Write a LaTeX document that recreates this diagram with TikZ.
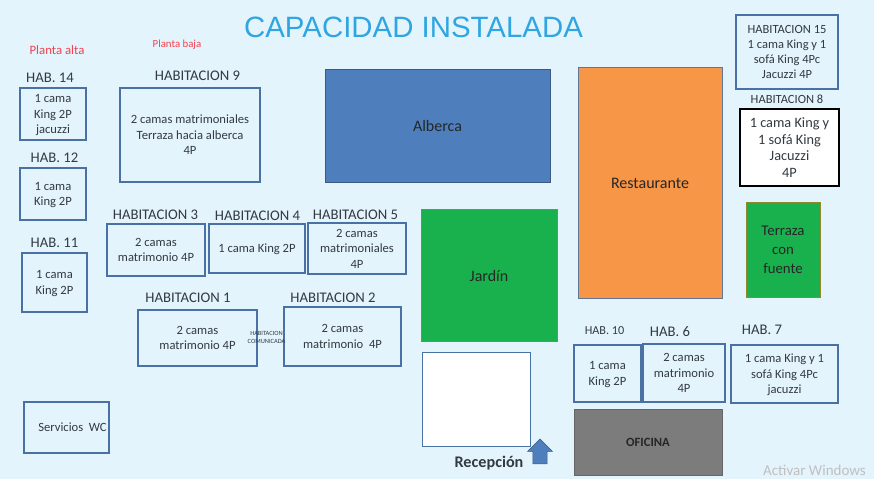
\documentclass[tikz,border=0pt]{standalone}
\usepackage{fontspec}
\setmainfont{Carlito}
\newfontfamily\titlefont{Liberation Sans}
\usepackage{tikz}
\usetikzlibrary{shapes.arrows}

\definecolor{fondo}{HTML}{E3F4FD}
\definecolor{borde}{HTML}{4A71A4}
\definecolor{texto}{HTML}{333A40}
\definecolor{titulo}{HTML}{2FA6E2}
\definecolor{rojo}{HTML}{F4404F}
\definecolor{azul}{HTML}{4E7FBC}
\definecolor{naranja}{HTML}{F79646}
\definecolor{verde}{HTML}{19B14E}
\definecolor{gris}{HTML}{7C7C7C}

\begin{document}
\begin{tikzpicture}[
    x=1pt, y=-1pt,
    room/.style={draw=borde, line width=1.3pt, inner sep=1pt, text depth=0pt, align=center, font=\fontsize{12.6}{15.5}\selectfont, text=texto},
    label/.style={inner sep=0pt, font=\fontsize{14.7}{16}\selectfont, text=texto},
    area/.style={draw=borde!80!black, line width=0.9pt, inner sep=1pt, text depth=0pt, align=center, font=\fontsize{16}{18}\selectfont, text=black!85},
    nota/.style={inner sep=0pt, font=\fontsize{12.8}{14}\selectfont, text=rojo}
]
\useasboundingbox (0,0) rectangle (874,479);
\fill[fondo] (0,0) rectangle (874,479);

\node[inner sep=0pt, font=\titlefont\fontsize{29.4}{31}\selectfont, text=titulo] (titulo) at (413.5,27) {CAPACIDAD INSTALADA};
\node[nota] (alta) at (57,50) {Planta alta};
\node[nota, font=\fontsize{10.8}{12}\selectfont] (baja) at (177,45) {Planta baja};

% planta alta
\node[label] (l14) at (50,78) {HAB. 14};
\node[room, minimum width=66, minimum height=52] (h14) at (53,114) {1 cama\\King 2P\\jacuzzi};
\node[label] (l12) at (54.5,158) {HAB. 12};
\node[room, minimum width=66, minimum height=52] (h12) at (53,194) {1 cama\\King 2P};
\node[label] (l11) at (54.5,243) {HAB. 11};
\node[room, minimum width=65, minimum height=59] (h11) at (54.5,282.5) {1 cama\\King 2P};

% planta baja
\node[label] (l9) at (197.5,76) {HABITACION 9};
\node[room, minimum width=140, minimum height=94] (h9) at (190,135) {2 camas matrimoniales\\Terraza hacia alberca\\4P};
\node[label] (l3) at (155.5,214.5) {HABITACION 3};
\node[room, minimum width=98, minimum height=52] (h3) at (156,250) {2 camas\\matrimonio 4P};
\node[label] (l4) at (257.5,215.5) {HABITACION 4};
\node[room, minimum width=96, minimum height=49] (h4) at (257,248.5) {1 cama King 2P};
\node[label] (l5) at (355.5,214.5) {HABITACION 5};
\node[room, minimum width=98, minimum height=51] (h5) at (357,248.5) {2 camas\\matrimoniales\\4P};
\node[label] (l1) at (188,298) {HABITACION 1};
\node[room, minimum width=119, minimum height=56] (h1) at (197.5,338) {2 camas\\matrimonio 4P};
\node[label] (l2) at (333,298) {HABITACION 2};
\node[room, minimum width=117, minimum height=59] (h2) at (342.5,336.5) {2 camas\\matrimonio\ \ 4P};
\node[inner sep=0pt, align=center, font=\fontsize{6.4}{7.5}\selectfont, text=texto] (com) at (266.5,337.5) {HABITACION\\COMUNICADA};
\node[room, minimum width=85, minimum height=51] (wc) at (66.5,427.5) {\hspace*{12pt}Servicios\ \ WC};

% areas
\node[area, fill=azul, minimum width=225, minimum height=113] (alberca) at (437.5,125.5) {Alberca};
\node[area, fill=naranja, draw=borde!60!gray, minimum width=144, minimum height=231] (rest) at (650,182.5) {\raisebox{-2pt}{Restaurante}};
\node[area, fill=verde, draw=olive!70!gray, minimum width=136, minimum height=132] (jardin) at (489,275) {\raisebox{-2pt}{Jardín}};
\node[area, fill=verde, draw=olive!70!gray, minimum width=74, minimum height=95, font=\fontsize{14.8}{19}\selectfont] (terraza) at (783,249.5) {Terraza\\con\\fuente};
\node[draw=borde, line width=0.7pt, fill=white, minimum width=108, minimum height=94] (recep) at (476,399) {};
\node[inner sep=0pt, font=\bfseries\fontsize{16.2}{18}\selectfont, text=texto] (lrecep) at (489,463) {Recepción};
\node[single arrow, draw=borde!80!black, fill=azul, line width=0.5pt, rotate=90, minimum width=25, minimum height=25, single arrow head extend=5pt, single arrow head indent=0pt, inner sep=6.5pt] (flecha) at (540,455) {};

% lado derecho
\node[room, minimum width=102, minimum height=74, font=\fontsize{12.5}{15}\selectfont] (h15) at (787,52) {HABITACION 15\\1 cama King y 1\\sofá King 4Pc\\Jacuzzi 4P};
\node[label, font=\fontsize{12.5}{14}\selectfont] (l8) at (787,99) {HABITACION 8};
\node[room, draw=black, line width=1.5pt, fill=white, minimum width=99, minimum height=77, font=\fontsize{14.3}{16.5}\selectfont] (h8) at (789.5,147.5) {1 cama King y\\1 sofá King\\Jacuzzi\\4P};
\node[label, font=\fontsize{12.2}{14}\selectfont] (l10) at (604.5,331) {HAB. 10};
\node[room, minimum width=67, minimum height=57] (h10) at (607.5,373.5) {1 cama\\King 2P};
\node[label] (l6) at (670,332) {HAB. 6};
\node[room, minimum width=82, minimum height=58] (h6) at (684,373) {2 camas\\matrimonio\\4P};
\node[label] (l7) at (762,329.5) {HAB. 7};
\node[room, minimum width=107, minimum height=58] (h7) at (784.5,374) {1 cama King y 1\\sofá King 4Pc\\jacuzzi};
\node[draw=black!60, line width=1pt, fill=gris, minimum width=148, minimum height=66, inner sep=0pt, font=\bfseries\fontsize{12.6}{14}\selectfont, text=black!85] (oficina) at (648,442) {\raisebox{-1pt}{OFICINA}};

\node[anchor=base east, inner sep=0pt, text depth=0pt, font=\fontsize{15}{16}\selectfont, text=black!25] (marca) at (866,475) {Activar Windows};
\end{tikzpicture}
\end{document}
